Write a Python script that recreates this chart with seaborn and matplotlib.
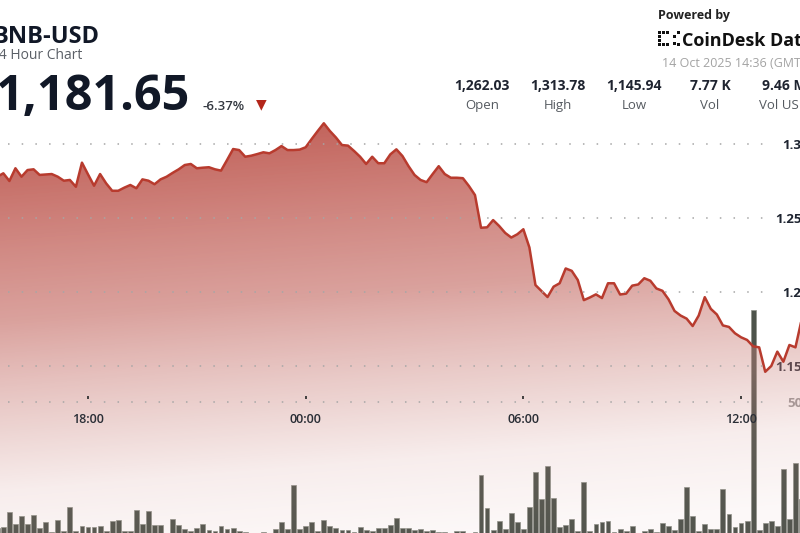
import numpy as np
import pandas as pd
import matplotlib
matplotlib.use("Agg")
import matplotlib.pyplot as plt
import matplotlib.transforms as mtransforms
from matplotlib.patches import Rectangle
import seaborn as sns

# ---------------- data ----------------
start_time = "2025-10-13 15:30"          # first 10-minute sample
ref_time = "2025-10-13 18:00"

prices = [
    1277.9, 1280.2, 1275.0, 1283.6, 1277.9, 1282.4, 1282.9, 1279.1, 1279.4, 1279.7,
    1277.9, 1275.2, 1275.7, 1271.1, 1287.4, 1279.5, 1271.8, 1279.7, 1273.4, 1268.4,
    1268.4, 1270.5, 1272.3, 1270.1, 1276.1, 1275.2, 1272.8, 1276.1, 1277.9, 1280.5,
    1282.9, 1285.8, 1286.5, 1283.6, 1284.0, 1284.3, 1282.9, 1282.0, 1289.2, 1296.6,
    1295.9, 1291.4, 1292.1, 1293.2, 1294.4, 1293.7, 1295.9, 1298.6, 1295.9, 1295.9,
    1296.2, 1297.8, 1303.4, 1308.8, 1314.0, 1308.8, 1304.4, 1299.3, 1298.9, 1295.3,
    1291.4, 1286.5, 1291.4, 1287.0, 1287.0, 1293.0, 1296.4, 1291.9, 1285.1, 1279.1,
    1275.7, 1274.2, 1279.7, 1285.0, 1279.7, 1277.2, 1277.2, 1276.9, 1271.6, 1265.5,
    1243.4, 1243.7, 1248.6, 1244.6, 1239.9, 1236.8, 1239.0, 1242.4, 1230.1, 1204.7,
    1200.7, 1196.6, 1203.6, 1205.9, 1215.9, 1214.3, 1208.1, 1194.5, 1196.3, 1198.4,
    1195.9, 1205.9, 1205.9, 1198.3, 1198.9, 1204.3, 1205.1, 1209.3, 1207.6, 1202.4,
    1200.8, 1195.1, 1187.2, 1184.1, 1182.0, 1177.0, 1184.1, 1196.5, 1188.6, 1184.8,
    1177.4, 1176.4, 1172.1, 1169.4, 1167.6, 1163.3, 1162.6, 1146.1, 1150.0, 1159.7,
    1152.9, 1164.2, 1162.6, 1181.0,
]

volumes = [
    25, 29, 85, 40, 71, 41, 76, 25, 49, 12,
    58, 14, 104, 15, 33, 30, 30, 33, 16, 51,
    58, 16, 16, 93, 40, 90, 36, 36, 9, 60,
    36, 24, 16, 25, 43, 18, 16, 34, 23, 25,
    14, 12, 9, 5, 12, 5, 21, 48, 23, 189,
    24, 34, 49, 15, 55, 34, 25, 18, 19, 12,
    30, 19, 16, 27, 25, 39, 63,
    25, 25, 19, 24, 15, 19, 12, 10, 8, 15,
    15, 9, 10, 226, 102, 19, 53, 24, 84, 49,
    24, 105, 236, 134, 258, 139, 29, 36, 59, 15,
    199, 15, 43, 48, 53, 11, 24, 15, 34, 8,
    14, 21, 10, 45, 34, 19, 59, 179, 73, 14,
    41, 24, 24, 173, 80, 29, 46, 54, 846, 19,
    45, 54, 34, 248, 61, 272, 135,
]

x_tick_hours = [0, 6, 12, 18]
x_tick_labels = ["18:00", "00:00", "06:00", "12:00"]
price_ticks = [1150, 1200, 1250, 1300]
price_tick_labels = ["1.15K", "1.2K", "1.25K", "1.3K"]
vol_ticks = [500]
vol_tick_labels = ["500"]

title = "BNB-USD"
subtitle = "24 Hour Chart"
last_price = "1,181.65"
change_pct = "-6.37%"
stat_values = ["1,262.03", "1,313.78", "1,145.94", "7.77 K", "9.46 M"]
stat_labels = ["Open", "High", "Low", "Vol", "Vol USD"]
timestamp = "14 Oct 2025 14:36 (GMT)"

times = pd.date_range(start_time, periods=len(prices), freq="10min")
hours = np.asarray((times - pd.Timestamp(ref_time)) / pd.Timedelta(hours=1), dtype=float)

# ---------------- style ----------------
sns.set_theme(style="white")
plt.rcParams["font.family"] = ["Open Sans", "DejaVu Sans"]

W, H = 800, 533
fig = plt.figure(figsize=(W / 100, H / 100), dpi=100)
fig.patch.set_facecolor("white")


def fx(x):
    return x / W


def fy(y):
    return 1 - y / H


PLOT_TOP = 100
XLIM = ((0 - 88) / 36.28, (800 - 88) / 36.28)
PRICE_LIM = (1300 - (533 - 144) / 1.48, 1300 + (144 - PLOT_TOP) / 1.48)
VOL_LIM = ((535 - 533) * 500 / 133, (535 - PLOT_TOP) * 500 / 133)

ax_vol = fig.add_axes([0, 0, 1, (H - PLOT_TOP) / H])
ax_price = ax_vol.twinx()

# volume bars (underneath the translucent area fill)
sns.barplot(x=hours, y=volumes, native_scale=True, ax=ax_vol, color="#4d534b",
            saturation=1, width=0.8, edgecolor="#8d928a", linewidth=0.5)

# area fill with tilted gradient
poly = ax_price.fill_between(hours, prices, PRICE_LIM[0], facecolor="none",
                             edgecolor="none")
rows = np.arange(PLOT_TOP, H) + 0.5
cols = np.arange(0, W) + 0.5
X, Y = np.meshgrid(cols, rows)
S = Y + 0.08 * (X - 400)
alpha = np.interp(S, [120, 290, 400, 460, 540], [0.80, 0.62, 0.36, 0.16, 0.06])
R = np.interp(S, [120, 290, 400, 540], [180, 196, 206, 212]) / 255
G = np.interp(S, [120, 290, 400, 540], [62, 104, 138, 150]) / 255
B = np.interp(S, [120, 290, 400, 540], [52, 97, 132, 146]) / 255
img = np.dstack([R, G, B, alpha])
im = ax_price.imshow(img, extent=[XLIM[0], XLIM[1], PRICE_LIM[0], PRICE_LIM[1]],
                     origin="upper", aspect="auto", interpolation="bilinear", zorder=1)
im.set_clip_path(poly.get_paths()[0], transform=ax_price.transData)

sns.lineplot(x=hours, y=prices, ax=ax_price, color="#b83b2e", linewidth=1.8, zorder=3)

for a in (ax_vol, ax_price):
    a.set_xlim(*XLIM)
    a.set_xlabel("")
    a.set_ylabel("")
    for s in a.spines.values():
        s.set_visible(False)
    a.grid(False)
    a.set_xticks([])
    a.tick_params(axis="x", bottom=False, labelbottom=False, top=False, labeltop=False)
ax_price.set_ylim(*PRICE_LIM)
ax_vol.set_ylim(*VOL_LIM)

# dotted grid rows
dot_style = dict(color="#a6a6a6", lw=1.1, ls=(0, (1, 7.96)), solid_capstyle="butt",
                 dash_capstyle="butt", zorder=4)
for v in price_ticks:
    ax_price.axhline(v, xmin=0.01, xmax=0.965, **dot_style)
blend = mtransforms.blended_transform_factory(ax_price.transAxes, ax_vol.transData)
for v in vol_ticks:
    ax_price.plot([0.01, 0.965], [v, v], transform=blend, **dot_style)

# y tick labels on the right (right aligned, partly cut by the figure edge)
ax_price.set_yticks(price_ticks)
ax_price.set_yticklabels(price_tick_labels, fontsize=9.5, fontweight="bold", color="#1e2430")
ax_price.tick_params(axis="y", right=True, length=0, pad=7.5)
for lab in ax_price.get_yticklabels():
    lab.set_ha("right")
ax_vol.yaxis.tick_right()
ax_vol.set_yticks(vol_ticks)
ax_vol.set_yticklabels(vol_tick_labels, fontsize=9.5, fontweight="bold", color="#9a9a9a")
ax_vol.tick_params(axis="y", right=True, left=False, length=0, pad=7.5)
for lab in ax_vol.get_yticklabels():
    lab.set_ha("right")

# time axis drawn inside the chart
ax_x = fig.add_axes([0, fy(399), 1, 0.05])
ax_x.patch.set_visible(False)
for s in ax_x.spines.values():
    s.set_visible(False)
ax_x.set_yticks([])
ax_x.set_xlim(*XLIM)
ax_x.set_xticks(x_tick_hours)
ax_x.set_xticklabels(x_tick_labels, fontsize=9, fontweight="semibold", color="#2a2e36")
ax_x.tick_params(axis="x", bottom=True, direction="in", length=2.2, width=1.3,
                 color="#333333", pad=10)

# ---------------- header texts ----------------
dark = "#111827"
fig.text(fx(-7), fy(43), title, fontsize=17, fontweight="bold", color=dark, va="baseline")
fig.text(fx(-9), fy(59), subtitle, fontsize=10, color="#5a5f66", va="baseline")
fig.text(fx(-5), fy(110), last_price, fontsize=35, fontweight="bold", color=dark,
         va="baseline")
fig.text(fx(203), fy(110), change_pct, fontsize=9.5, fontweight="semibold", color="#333840",
         va="baseline")
fig.text(fx(261), fy(104), "\u25BC", fontsize=10, color="#b3261a", ha="center", va="center",
         family="DejaVu Sans")

fig.text(fx(658), fy(19), "Powered by", fontsize=9, fontweight="bold", color="#222222",
         va="baseline")
fig.text(fx(682), fy(46), "CoinDesk Data", fontsize=13, fontweight="bold", color="#111111",
         va="baseline")
# logo icon made of small squares
sq = 3
for (px, py) in [(658, 31), (658, 35), (658, 39), (658, 43), (662, 31), (666, 31),
                 (662, 43), (666, 43), (673, 35), (673, 42), (677, 31), (677, 43)]:
    fig.add_artist(Rectangle((fx(px), fy(py + sq)), sq / W, sq / H,
                             transform=fig.transFigure, color="#111111", lw=0))
fig.text(fx(662), fy(67), timestamp, fontsize=9, color="#a3a3a3", va="baseline")

stat_x = [482, 558, 634, 710, 784]
for x, v, l in zip(stat_x, stat_values, stat_labels):
    fig.text(fx(x), fy(90), v, fontsize=10, fontweight="bold", color="#1f2430",
             ha="center", va="baseline")
    fig.text(fx(x), fy(109), l, fontsize=9.5, color="#555a60", ha="center", va="baseline")

fig.savefig("out.png", dpi=100, facecolor="white")
